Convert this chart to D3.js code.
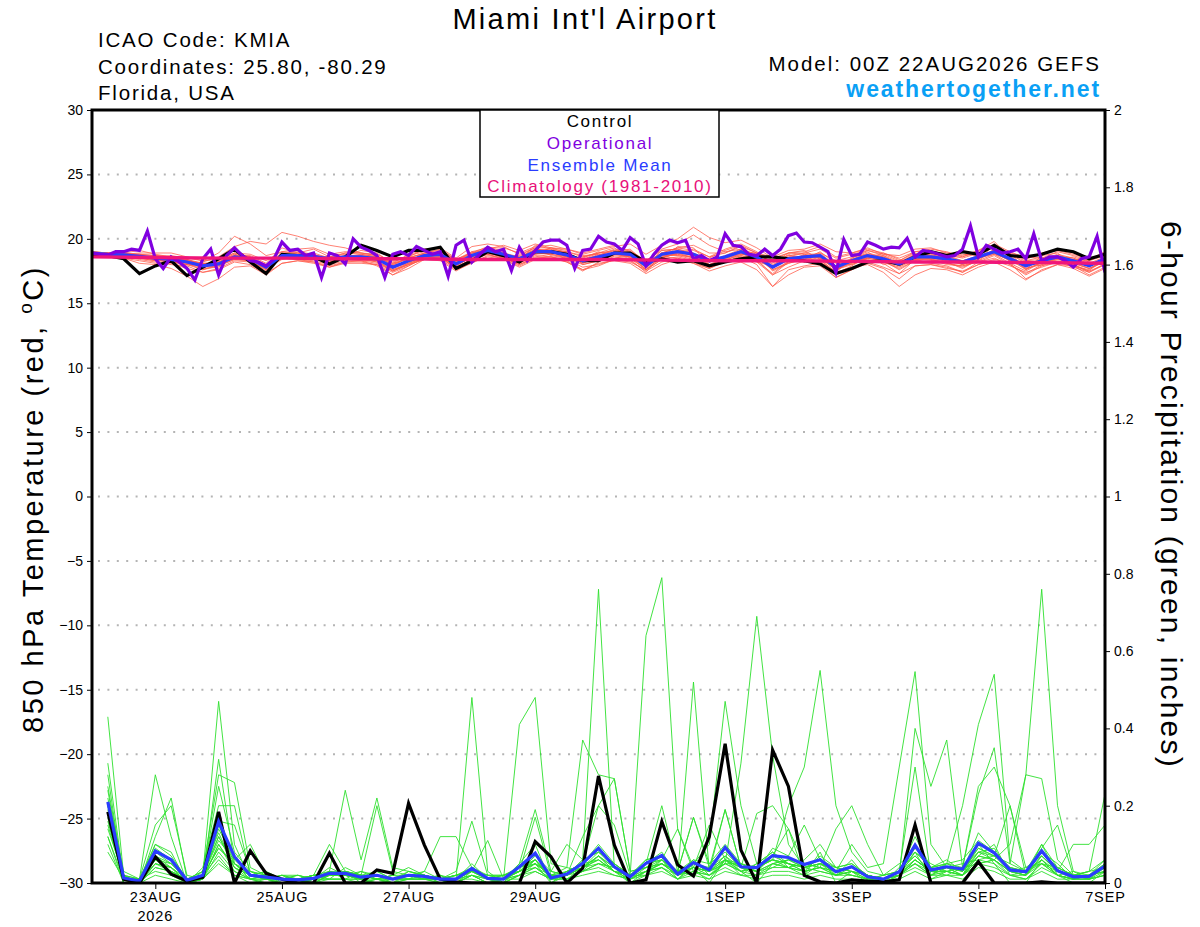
<!DOCTYPE html>
<html>
<head>
<meta charset="utf-8">
<script src="https://cdn.jsdelivr.net/npm/d3@7"></script>
<style>
  body { margin: 0; background: #fff; }
  svg { display: block; font-family: "Liberation Sans", Arial, Helvetica, sans-serif; }
</style>
</head>
<body>
<div id="chart"></div>
<script>
// run 00Z 22AUG2026
const runStart = Date.UTC(2026, 7, 22, 0);
const runHours = 384;

const xTickDays = [[7, 23], [7, 25], [7, 27], [7, 29], [8, 1], [8, 3], [8, 5], [8, 7]];
const xTickLabels = ['23AUG', '25AUG', '27AUG', '29AUG', '1SEP', '3SEP', '5SEP', '7SEP'];
const tempTicks = [-30, -25, -20, -15, -10, -5, 0, 5, 10, 15, 20, 25, 30];
const precipTicks = [0, 0.2, 0.4, 0.6, 0.8, 1, 1.2, 1.4, 1.6, 1.8, 2];

// 850 hPa temperature, 6-hourly from hour 0
const tempControl = [18.8, 18.7,18.45,17.3,17.9, 18.3,17.15,17.8,18.45, 19.2,18.2,17.3,18.8, 18.7,18.6,18.05,18.6,
  19.5,19.1,18.6,19.1, 19.1,19.35,17.7,18.3, 19.0,18.7,18.2,19.0, 19.0,18.8,18.3,18.3, 18.9,18.9,18.2,18.45,
  18.2,18.3,17.9,18.2, 18.45,18.6,18.6,18.45, 18.3,18.05,17.3,17.7, 18.2,18.3,18.05,18.6, 19.0,18.7,19.0,18.8,
  19.5,18.7,18.6,18.8, 19.2,19.0,18.45,18.8];
const tempMean = [18.9, 18.8,18.75,18.65,18.5, 18.4,18.2,17.9,18.05, 18.6,18.45,17.8,18.7, 18.7,18.65,18.45,18.6,
  18.6,18.45,17.8,18.3, 18.7,18.8,18.05,18.7, 19.1,18.8,18.45,19.0, 19.0,18.75,18.3,18.6, 18.9,18.8,17.9,18.8,
  19.0,18.8,18.3,18.6, 19.0,18.6,17.8,18.45, 18.6,18.7,17.8,18.3, 18.7,18.45,18.05,18.6, 18.6,18.45,18.2,18.6,
  19.0,18.45,17.9,18.3, 18.6,18.3,17.9,18.45];
// operational run, 3-hourly from hour 0
const tempOper = [18.9,18.8,18.75,19.0,19.0,19.2,19.1,20.6, 18.45,17.7,18.6,18.2,17.7,16.8,18.45,19.2,
  17.2,18.7,19.3,18.7,18.3,18.2,17.9,18.45, 19.75,19.1,19.2,18.7,18.9,17.0,18.9,18.7,
  18.05,20.0,19.35,19.1,18.7,17.0,18.8,19.0, 18.7,19.4,19.1,18.8,19.0,17.1,19.5,19.9,
  18.2,18.8,19.35,19.0,19.2,17.55,19.35,18.3, 19.1,19.75,19.9,19.9,19.5,17.7,19.1,19.2,
  20.2,19.75,19.6,19.1,20.1,19.6,17.9,18.8, 19.5,19.9,19.7,19.9,18.45,18.7,18.3,18.6,
  20.4,19.5,19.4,18.8,18.7,19.2,18.7,19.2, 20.25,20.45,19.75,19.7,19.35,19.0,17.4,19.95,
  18.7,18.8,19.75,19.5,19.2,19.35,19.3,20.05, 18.6,19.1,19.0,18.8,18.6,18.7,19.2,21.0,
  18.6,19.5,19.2,18.9,19.0,19.2,18.45,20.4, 18.3,18.6,18.6,18.3,17.8,18.45,18.6,20.2, 17.4];
// 1981-2010 climatology, daily at 00Z
const tempClimo = [18.6, 18.55, 18.5, 18.5, 18.45, 18.45, 18.4, 18.4, 18.4, 18.35, 18.3, 18.3, 18.25, 18.2, 18.2, 18.15, 18.1];

const tempMembers = [
  [18.9, 18.9,18.7,18.6,18.6, 18.5,18.4,18.0,18.3, 18.9,18.6,17.6,18.9, 19.0,18.8,18.3,18.5, 18.4,18.2,17.5,18.1, 18.9,19.2,18.4,18.9, 19.4,19.0,18.2,18.8, 19.3,19.1,18.0,18.3, 19.0,19.2,18.1,18.5, 18.9,19.2,18.6,18.9, 19.4,18.9,17.5,18.1, 18.4,19.0,18.1,18.0, 18.5,18.9,18.4,18.2, 18.3,18.8,18.5,18.9, 19.3,18.8,18.1,17.9, 18.4,18.6,18.2,18.0],
  [18.8, 18.7,18.9,18.8,18.4, 18.2,18.0,17.6,17.9, 18.4,18.3,18.0,18.9, 18.5,18.4,18.6,18.9, 18.8,18.6,18.0,18.5, 18.6,18.5,17.8,18.4, 19.0,18.6,18.7,19.3, 18.7,18.5,18.6,18.9, 19.3,18.5,17.6,18.4, 19.4,19.3,18.0,18.2, 18.7,18.3,18.1,18.9, 19.1,18.4,17.4,18.5, 19.0,18.2,17.7,18.3, 18.9,18.1,17.9,18.3, 19.2,18.9,17.6,18.7, 18.9,18.0,17.5,18.7],
  [19.0, 18.9,18.8,18.5,18.3, 18.6,18.3,17.7,17.8, 18.7,18.7,18.1,19.3, 18.9,18.5,18.2,18.4, 18.3,18.3,17.6,18.0, 18.4,18.9,18.2,19.0, 18.8,18.9,18.3,19.5, 19.2,18.3,18.5,19.0, 18.6,18.4,17.4,18.9, 18.7,18.4,18.5,19.1, 19.5,18.2,17.9,18.8, 18.2,18.9,18.3,18.6, 18.8,18.0,18.3,18.9, 18.4,18.2,17.7,18.4, 19.5,18.2,18.3,18.6, 18.2,18.4,18.3,18.9],
  [18.9, 18.6,18.9,19.1,18.8, 18.6,18.1,18.2,18.6, 19.4,19.8,19.6,20.5, 20.2,19.8,19.5,19.3, 18.9,18.7,17.9,18.6, 18.8,18.6,17.7,18.5, 19.2,19.5,19.1,19.6, 19.3,18.9,18.1,18.7, 19.1,19.0,18.3,19.2, 19.6,20.3,19.5,19.0, 19.2,18.4,17.2,18.2, 18.8,18.5,17.6,18.1, 18.5,18.7,18.2,18.8, 18.9,18.6,18.6,19.1, 19.8,18.5,17.7,18.0, 18.5,17.9,17.6,18.3],
  [18.8, 18.8,18.5,18.1,18.0, 17.7,17.1,16.3,16.9, 17.8,17.9,17.2,18.1, 18.3,18.1,17.8,18.2, 18.2,18.0,17.4,17.9, 18.5,18.4,17.6,18.1, 18.7,18.5,18.0,18.5, 18.6,18.4,17.8,18.0, 18.4,18.3,17.5,18.2, 18.5,18.1,17.7,18.2, 18.6,18.0,16.3,17.6, 17.9,18.1,17.0,17.6, 18.1,17.7,16.9,17.9, 18.0,17.8,17.4,18.0, 18.4,18.1,16.9,17.5, 18.0,17.9,17.2,17.8],
  [18.9, 18.8,18.6,18.7,18.6, 18.3,18.4,18.1,18.0, 18.5,18.3,17.7,18.5, 18.8,18.9,18.5,18.7, 19.1,18.9,18.1,18.4, 18.7,19.0,18.3,18.8, 19.3,18.9,18.6,19.1, 19.1,19.0,18.7,18.8, 18.5,18.7,17.8,18.6, 18.8,18.5,17.9,18.3, 18.8,18.8,18.2,18.7, 18.9,19.2,18.5,18.8, 19.1,18.8,18.3,19.0, 19.0,18.9,18.8,18.7, 18.9,18.3,18.0,18.4, 18.8,18.5,18.1,18.6],
  [19.0, 18.9,18.9,18.6,18.4, 18.2,18.0,18.0,18.2, 18.8,18.5,17.9,18.6, 18.4,18.3,18.0,18.3, 18.3,17.9,17.2,17.9, 18.6,18.7,17.9,18.6, 19.0,18.5,18.0,18.6, 18.8,18.5,18.0,18.3, 18.8,18.6,17.9,19.1, 19.2,18.9,18.4,18.5, 19.0,18.5,17.6,18.2, 18.3,18.2,17.5,18.4, 18.9,18.6,17.9,18.5, 18.4,18.0,17.9,18.2, 18.7,18.0,17.3,18.0, 18.3,18.0,17.4,18.1],
  [18.8, 18.9,18.8,18.6,18.7, 18.6,18.4,17.9,18.1, 18.7,18.4,17.5,18.6, 18.6,18.7,18.4,18.6, 18.7,18.5,17.8,18.1, 18.5,18.6,17.9,18.6, 19.1,18.8,18.3,18.9, 18.9,18.9,18.4,18.7, 19.2,19.1,18.3,19.1, 19.2,18.8,18.0,18.4, 19.0,18.9,18.4,18.9, 18.8,18.5,17.9,18.2, 18.5,18.3,18.0,18.5, 18.5,18.7,18.3,18.6, 19.1,18.7,18.3,18.4, 18.7,18.5,18.0,18.5],
  [18.9, 18.8,18.7,18.7,18.5, 18.4,18.3,18.1,18.2, 18.6,18.6,18.0,18.8, 18.8,18.6,18.5,18.9, 18.9,18.8,18.2,18.7, 19.0,19.1,18.4,19.0, 19.3,19.3,18.9,19.4, 19.5,19.2,18.8,19.1, 19.4,19.6,18.8,19.5, 20.0,20.9,20.1,19.7, 19.9,19.3,18.5,18.9, 19.0,19.4,18.6,18.9, 19.2,18.9,18.5,19.0, 19.2,19.0,18.6,19.0, 19.6,19.0,18.5,18.8, 19.1,18.8,18.4,18.9],
  [18.9, 18.7,18.6,18.6,18.4, 18.3,18.0,17.8,17.9, 18.4,18.3,17.6,18.5, 18.6,18.5,18.3,18.4, 18.5,18.2,17.6,18.1, 18.5,18.6,17.8,18.4, 18.8,18.5,18.1,18.7, 18.6,18.3,17.6,18.1, 18.3,18.1,17.3,18.0, 18.4,18.1,17.5,17.9, 18.2,17.6,16.3,17.2, 17.8,17.9,17.0,17.6, 18.2,17.8,17.3,17.9, 18.0,17.7,17.5,18.0, 18.3,17.9,17.4,17.8, 18.2,17.9,17.5,18.0],
  [18.8, 18.6,18.5,18.5,18.3, 18.2,18.1,17.6,18.0, 18.5,18.5,17.9,18.7, 18.9,18.7,18.6,18.8, 18.6,18.6,18.0,18.5, 18.9,18.8,18.0,18.8, 19.0,18.7,18.5,19.2, 19.1,18.8,18.4,18.9, 19.1,18.8,17.9,18.7, 18.7,18.6,18.2,18.5, 18.8,18.7,18.3,18.7, 18.5,18.6,17.7,18.1, 18.6,18.5,18.1,18.8, 18.7,18.5,18.0,18.5, 18.8,18.4,17.8,18.3, 18.6,18.2,17.9,18.4],
  [18.9, 18.8,18.9,18.7,18.5, 18.3,18.2,18.0,18.0, 18.7,18.6,17.8,18.8, 18.6,18.5,18.2,18.5, 18.4,18.3,17.5,18.0, 18.7,18.8,18.1,18.5, 18.9,18.6,18.1,18.9, 18.8,18.6,18.2,18.5, 18.7,18.5,17.7,18.5, 18.9,18.7,18.2,18.6, 19.1,18.7,17.6,18.1, 18.5,18.4,17.3,17.9, 18.6,18.3,17.6,18.3, 18.5,18.3,18.1,18.5, 18.9,18.4,17.6,18.2, 18.4,18.1,17.7,18.3],
  [18.9, 18.7,18.8,18.8,18.7, 18.6,18.3,17.9,18.2, 18.8,18.5,17.8,18.7, 18.5,18.6,18.5,18.4, 18.4,18.4,17.7,18.3, 18.8,19.0,18.1,18.7, 19.2,18.9,18.4,19.0, 19.0,18.6,18.2,18.5, 18.9,18.9,17.9,18.9, 19.0,18.7,18.3,18.7, 19.2,18.8,17.7,18.5, 18.7,18.9,17.9,18.4, 18.8,18.6,18.1,18.7, 18.7,18.6,18.3,18.7, 19.0,18.6,18.0,18.4, 18.7,18.4,17.9,18.5],
  [18.8, 18.8,18.7,18.8,18.7, 18.5,18.3,18.1,18.0, 18.6,18.4,17.9,18.6, 18.7,18.8,18.4,18.5, 18.6,18.3,17.9,18.2, 18.6,18.9,18.0,18.7, 19.1,18.7,18.5,19.0, 18.9,18.8,18.3,18.6, 18.8,18.9,18.1,18.9, 19.1,18.8,18.3,18.6, 19.1,18.5,17.9,18.4, 18.6,18.8,17.8,18.2, 18.7,18.4,17.9,18.5, 18.6,18.4,18.2,18.6, 19.1,18.5,17.9,18.3, 18.6,18.3,17.9,18.4],
  [18.9, 18.9,18.6,18.6,18.6, 18.7,18.5,18.3,18.9, 20.2,19.6,18.7,19.0, 18.9,19.2,18.6,18.6, 18.8,18.6,18.3,18.6, 19.2,19.3,18.5,19.4, 19.6,19.4,18.8,19.3, 19.3,19.2,18.9,19.2, 19.5,19.0,18.2,18.9, 19.3,19.5,18.9,18.9, 19.5,18.9,18.6,19.1, 19.2,19.6,19.0,18.9, 19.3,18.8,18.7,19.2, 19.3,18.9,18.7,19.1, 19.5,18.9,18.6,18.5, 19.0,18.7,18.3,18.7],
  [18.9, 18.7,18.6,18.4,18.2, 18.0,17.9,17.4,17.6, 18.2,18.0,17.3,18.1, 18.3,18.2,17.8,18.1, 18.1,18.0,17.2,17.7, 18.4,18.3,17.5,18.2, 18.6,18.4,17.8,18.4, 18.5,18.2,17.6,17.9, 18.4,18.2,17.6,18.4, 18.6,18.3,17.8,18.2, 18.6,18.2,17.2,17.8, 18.3,18.2,17.4,17.8, 18.0,17.4,16.3,17.2, 17.7,17.6,17.2,17.8, 18.2,17.6,16.8,17.6, 18.0,17.7,17.1,17.7],
  [19.0, 18.9,18.8,18.9,18.9, 18.9,18.6,18.3,18.4, 18.9,18.8,18.3,19.0, 19.2,19.3,18.8,19.0, 18.9,18.7,18.1,18.8, 19.1,18.9,18.2,18.9, 19.2,18.8,18.6,19.2, 19.0,18.7,18.3,18.8, 18.8,18.6,18.0,18.9, 19.3,19.1,18.6,19.2, 19.6,19.0,18.0,18.6, 18.9,18.7,17.9,18.5, 19.1,18.7,18.0,18.6, 18.8,18.5,18.0,18.4, 19.2,18.8,18.4,18.9, 19.2,18.9,18.4,19.0],
  [18.8, 18.6,18.5,18.3,18.1, 18.1,17.7,17.4,17.7, 18.3,18.2,17.7,18.5, 18.4,18.2,17.9,18.2, 18.3,18.1,17.5,18.0, 18.4,18.5,17.7,18.4, 18.8,18.4,17.9,18.5, 18.6,18.2,17.5,18.2, 18.8,18.7,17.6,18.6, 18.5,18.2,17.7,18.3, 18.9,18.3,17.3,18.3, 18.2,18.6,17.6,18.3, 18.4,18.1,17.3,18.4, 18.1,17.9,17.4,18.2, 18.5,18.0,17.2,17.9, 18.2,17.8,17.4,18.0],
  [18.9, 18.8,18.7,18.6,18.6, 18.5,18.2,17.9,18.2, 18.6,18.5,17.7,18.4, 18.6,18.6,18.4,18.7, 18.7,18.6,18.1,18.5, 18.9,19.0,18.4,18.9, 19.1,18.6,18.2,19.1, 19.2,19.0,18.6,18.9, 19.0,18.7,17.9,18.8, 18.9,18.5,17.8,18.4, 18.7,18.5,17.8,18.5, 18.6,18.6,17.6,18.0, 18.5,18.2,17.8,18.4, 18.4,18.1,17.8,18.3, 18.8,18.1,17.5,18.2, 18.5,18.2,17.7,18.2],
  [18.9, 18.7,18.6,18.5,18.4, 18.3,18.1,17.8,18.1, 18.5,18.4,17.8,18.6, 18.7,18.4,18.2,18.5, 18.6,18.4,17.7,18.2, 18.6,18.7,17.9,18.6, 19.0,18.7,18.3,18.8, 18.9,18.6,18.1,18.5, 18.9,18.6,17.8,18.7, 18.8,18.6,18.0,18.5, 18.9,18.4,17.8,18.4, 18.7,18.5,17.6,18.2, 18.7,18.3,17.9,18.4, 18.5,18.3,18.0,18.5, 18.9,18.3,17.7,18.1, 18.5,18.1,17.7,18.3]
];

// 6-hour precipitation (inches), 6-hourly from hour 6
const precipControl = [.184,.01,0,.068, .023,.005,.015,.184, 0,.083,.025,.01, 0,0,.077,0, 0,.034,.025,.206, .098,.01,.003,0,
  0,0,0,.107, .068,0,.038,.277, .098,0,.008,.159, .047,.018,.12,.36, .085,0,.344,.25, .02,.003,0,.008,
  .005,.003,.008,.15, 0,0,0,.055, 0,0,0,.003, 0,0,0,0];
const precipMean = [.21,.013,.005,.083, .06,.007,.02,.159, .068,.02,.015,.01, .008,.012,.025,.025, .015,.02,.01,.02, .017,.01,.01,.038,
  .012,.01,.042,.077, .013,.023,.051,.09, .042,.016,.051,.071, .023,.053,.034,.092, .042,.04,.071,.066, .048,.06,.029,.042,
  .016,.01,.029,.098, .034,.042,.036,.103, .078,.034,.029,.083, .032,.016,.017,.044];

const precipMembers = [
  [.43,.02,0,.1, .08,0,.02,.47, .1,.01,0,0, 0,0,.02,.03, 0,.01,0,0, 0,0,0,.02, 0,0,.05,.1, 0,.02,.06,.76, .04,0,.03,.05, .02,.04,0,.06, .03,0,.05,.04, .02,.08,0,.03, 0,0,.02,.08, .01,.03,.02,.1, .05,0,0,.06, .02,0,0,.03],
  [.31,.01,.01,.28, .12,0,.01,.32, .05,.02,.01,0, 0,.01,.03,.02, .01,0,0,.03, .02,0,.01,.48, .03,0,.04,.05, 0,.03,.05,.1, .05,.02,.64,.79, .14,.03,.01,.06, .02,.05,.08,.05, .03,.04,.02,.06, .01,.02,.03,.1, .04,.05,.03,.07, .06,.02,.01,.05, .04,.02,.01,.02],
  [.28,0,0,.12, .22,.01,.03,.28, .26,.04,.02,.01, .01,.02,.01,.04, .02,.03,.01,.02, .01,.02,0,.03, .02,.01,.41,.48, .05,.04,.03,.07, .03,0,.02,.04, .01,.05,.03,.19, .04,.04,.06,.05, .04,.03,.02,.04, .02,0,.04,.07, .03,.02,.04,.08, .09,.03,.02,.07, .03,.01,.02,.05],
  [.25,.02,0,.05, .04,.01,.02,.25, .08,.03,.01,.02, .01,.01,.03,.01, .03,.02,.01,.01, .01,.01,.02,.04, .01,.02,.03,.06, .02,.04,.37,.28, .27,.03,.04,.05, .03,.06,.05,.08, .04,.03,.07,.14, .02,.05,.04,.03, .02,.01,.03,.3, .02,.04,.05,.06, .07,.05,.03,.08, .05,.01,.02,.03],
  [.24,.01,.01,.09, .06,0,.04,.2, .2,.02,.03,0, .01,.02,.02,.03, .02,.01,.02,.01, .03,.01,.02,.03, .01,.01,.02,.04, .01,.03,.05,.06, .03,.02,.03,.05, .02,.52,.03,.05, .31,.69,.33,.1, .04,.06,.02,.03, .02,.01,.02,.06, .03,.04,.02,.07, .1,.02,.03,.06, .02,.01,.02,.04],
  [.22,.03,.01,.15, .2,.02,.01,.15, .05,.01,.02,.01, .02,.01,.04,.02, .01,.02,0,.02, .02,.01,.03,.16, .02,.02,.03,.05, .02,.01,.04,.05, .04,.02,.02,.06, .03,.05,.1,.47, .2,.05,.08,.04, .06,.1,.04,.05, .02,.01,.03,.12, .04,.06,.03,.13, .08,.04,.03,.1, .04,.02,.02,.06],
  [.21,0,0,.06, .05,.01,.02,.12, .04,.02,.01,.02, 0,.01,.03,.24, .06,.22,.04,.03, .02,.01,.02,.03, .01,0,.02,.05, .03,.02,.04,.06, .03,.01,.04,.07, .02,.06,.02,.05, .03,.04,.06,.2, .3,.55,.2,.08, .03,.02,.05,.08, .05,.03,.04,.09, .07,.03,.04,.05, .03,.02,.01,.04],
  [.2,.02,.01,.07, .04,0,.01,.1, .03,.01,.02,.01, .01,.02,.02,.03, .02,.2,.03,.02, .03,.12,.12,.04, .02,.01,.05,.19, .03,.02,.06,.08, .04,.02,.05,.06, .03,.04,.02,.06, .04,.03,.07,.05, .04,.05,.03,.1, .04,.05,.3,.547, .1,.04,.03,.08, .06,.03,.02,.07, .03,.02,.02,.04],
  [.2,.01,0,.04, .03,.01,.03,.16, .15,.03,.02,.01, .02,.01,.02,.02, .01,.02,.01,.03, .02,0,.01,.03, .01,.02,.04,.06, .01,.03,.05,.2, .27,.03,.04,.06, .01,.04,.03,.07, .04,.02,.05,.06, .05,.06,.03,.04, .02,.01,.02,.4, .25,.37,.04,.05, .06,.03,.02,.1, .02,.03,.01,.05],
  [.19,.01,.01,.1, .07,.01,.01,.14, .06,.1,.02,.01, .01,0,.02,.02, .01,.03,.01,.02, .01,.02,0,.02, 0,.01,.03,.05, .02,.02,.04,.07, .03,.02,.05,.08, .02,.04,.03,.05, .05,.03,.04,.06, .04,.05,.02,.03, .01,.02,.03,.05, .02,.05,.2,.41, .54,.06,.03,.05, .02,.01,.02,.03],
  [.18,.02,0,.08, .05,.01,.02,.11, .06,.02,.03,.01, .01,.02,.1,.03, .02,.01,.01,.02, .01,.01,.02,.03, .01,.02,.03,.04, .02,.01,.03,.05, .04,.01,.03,.05, .03,.02,.04,.07, .03,.05,.06,.04, .05,.04,.03,.02, .01,.01,.02,.06, .03,.04,.02,.05, .06,.1,.28,.76, .2,.03,.02,.05],
  [.18,.01,.01,.05, .03,0,.03,.13, .04,.02,.01,.02, .02,.01,.03,.02, .03,.01,.02,.04, .02,.01,.01,.05, .01,0,.02,.06, .02,.03,.04,.08, .05,.02,.06,.07, .03,.05,.04,.06, .05,.04,.06,.05, .03,.07,.04,.03, .02,.01,.03,.07, .03,.05,.04,.23, .35,.05,.28,.27, .06,.02,.03,.06],
  [.17,0,.01,.06, .04,.01,.02,.09, .05,.02,.01,.02, .01,.02,.02,.03, .02,.01,.02,.02, .02,.01,.02,.03, .11,.01,.03,.07, .03,.1,.06,.08, .05,.02,.06,.07, .03,.17,.05,.1, .05,.03,.09,.07, .15,.06,.04,.05, .02,.01,.03,.09, .04,.05,.06,.11, .08,.04,.03,.09, .15,.02,.03,.23],
  [.16,.01,0,.07, .05,.01,.01,.1, .04,.01,.02,.01, .01,.01,.02,.02, .01,.02,.01,.02, .01,.02,.01,.02, .01,.01,.03,.06, .01,.02,.04,.07, .04,.02,.05,.06, .14,.04,.15,.06, .04,.03,.05,.06, .04,.05,.03,.04, .02,.01,.02,.06, .03,.03,.02,.08, .07,.2,.04,.07, .03,.1,.1,.15],
  [.15,.01,.01,.08, .06,0,.02,.12, .05,.02,.01,.01, 0,.01,.02,.02, .02,.01,.01,.01, .02,.01,.01,.03, .01,.01,.03,.17, .02,.02,.12,.2, .15,.02,.05,.2, .03,.17,.04,.19, .04,.18,.2,.14, .05,.04,.14,.2, .1,.02,.03,.08, .04,.03,.04,.25, .3,.2,.02,.08, .04,.02,.03,.04],
  [.14,.02,.01,.06, .03,.01,.02,.09, .05,.03,.02,.01, .01,.02,.03,.03, .02,.02,.01,.02, .02,.01,.02,.03, .02,.02,.04,.06, .01,.02,.04,.07, .04,.01,.03,.06, .02,.04,.03,.06, .03,.04,.06,.05, .04,.05,.03,.04, .02,.01,.03,.06, .03,.04,.03,.09, .07,.04,.03,.06, .03,.02,.02,.04],
  [.12,0,0,.05, .04,0,.01,.08, .03,.01,.01,0, 0,.01,.01,.01, .01,.01,0,.01, .01,0,.01,.02, 0,.01,.02,.04, .01,.01,.03,.05, .03,.01,.03,.04, .02,.03,.02,.05, .03,.02,.04,.04, .03,.04,.02,.03, .01,0,.02,.05, .02,.03,.02,.06, .05,.02,.02,.05, .02,.01,.01,.03],
  [.12,.01,0,.04, .03,.01,.02,.07, .02,.01,.01,.01, .01,0,.02,.02, .01,.02,.01,.02, .02,.01,.01,.03, .01,.01,.03,.05, .02,.02,.04,.06, .03,.02,.04,.05, .02,.04,.03,.06, .04,.03,.05,.04, .03,.04,.03,.02, .01,.01,.02,.05, .03,.03,.02,.07, .06,.03,.02,.06, .02,.01,.02,.03],
  [.1,0,.01,.03, .02,0,.01,.06, .02,.01,0,.01, 0,.01,.01,.01, .01,0,.01,.01, .01,.01,0,.02, .01,0,.02,.03, .01,.02,.03,.04, .02,.01,.03,.04, .01,.03,.02,.04, .02,.02,.03,.03, .02,.03,.02,.02, .01,.01,.02,.04, .02,.02,.02,.05, .04,.02,.01,.04, .02,.01,.01,.02],
  [.08,.01,0,.02, .01,0,.01,.05, .02,0,.01,0, 0,0,.01,.01, 0,.01,0,.01, .01,0,.01,.01, 0,.01,.01,.03, .01,.01,.02,.03, .02,.01,.02,.03, .01,.02,.01,.03, .02,.01,.02,.02, .01,.02,.01,.01, 0,.01,.01,.03, .01,.02,.01,.04, .03,.01,.01,.03, .01,.01,.01,.02]
];

const W = 1200, H = 927;
const plot = { left: 92, right: 1105, top: 110, bottom: 883 };
const HOUR = 3600e3;

const svg = d3.select('#chart').append('svg')
  .attr('width', W)
  .attr('height', H);

const x = d3.scaleUtc()
  .domain([new Date(runStart), new Date(runStart + runHours * HOUR)])
  .range([plot.left, plot.right]);
const yT = d3.scaleLinear().domain([-30, 30]).range([plot.bottom, plot.top]);
const yP = d3.scaleLinear().domain([0, 2]).range([plot.bottom, plot.top]);

const at = (firstHour, stepHours) => (d, i) => x(new Date(runStart + (firstHour + i * stepHours) * HOUR));

svg.append('defs').append('clipPath').attr('id', 'plot-clip')
  .append('rect')
  .attr('x', plot.left).attr('y', plot.top)
  .attr('width', plot.right - plot.left).attr('height', plot.bottom - plot.top);

// dotted grid at the temperature ticks
svg.append('g')
  .selectAll('line')
  .data(tempTicks.filter(t => t > -30 && t < 30))
  .join('line')
  .attr('x1', plot.left + 6).attr('x2', plot.right)
  .attr('y1', d => yT(d)).attr('y2', d => yT(d))
  .attr('stroke', '#b4b4b4')
  .attr('stroke-width', 2)
  .attr('stroke-dasharray', '2,7.4');

const lines = svg.append('g').attr('clip-path', 'url(#plot-clip)');

function drawSeries(values, xFn, yScale, color, width, opacity) {
  lines.append('path')
    .datum(values)
    .attr('fill', 'none')
    .attr('stroke', color)
    .attr('stroke-width', width)
    .attr('stroke-opacity', opacity)
    .attr('stroke-linejoin', 'miter')
    .attr('d', d3.line().x(xFn).y(d => yScale(d)));
}

precipMembers.forEach(m => drawSeries(m, at(6, 6), yP, '#2ee02e', 0.9, 1));
tempMembers.forEach(m => drawSeries(m, at(0, 6), yT, '#ff5a48', 0.9, 0.85));

drawSeries(precipControl, at(6, 6), yP, '#000', 3.2, 1);
drawSeries(precipMean, at(6, 6), yP, '#2a3cff', 3.2, 1);

drawSeries(tempControl, at(0, 6), yT, '#000', 3.2, 1);
drawSeries(tempMean, at(0, 6), yT, '#2a3cff', 3.2, 1);
drawSeries(tempOper, at(0, 3), yT, '#8000e0', 3.2, 1);
drawSeries(tempClimo, at(0, 24), yT, '#f0157a', 3.4, 1);

// axes
const leftAxis = svg.append('g')
  .attr('transform', `translate(${plot.left},0)`)
  .call(d3.axisLeft(yT).tickValues(tempTicks).tickSize(5).tickPadding(4));
const rightAxis = svg.append('g')
  .attr('transform', `translate(${plot.right},0)`)
  .call(d3.axisRight(yP).tickValues(precipTicks).tickSize(5).tickPadding(4)
    .tickFormat(d => String(+d.toFixed(1))));
const xTickDates = xTickDays.map(([m, d]) => new Date(Date.UTC(2026, m, d)));
const bottomAxis = svg.append('g')
  .attr('transform', `translate(0,${plot.bottom})`)
  .call(d3.axisBottom(x).tickValues(xTickDates).tickSize(6).tickPadding(3)
    .tickFormat((d, i) => xTickLabels[i]));

[leftAxis, rightAxis, bottomAxis].forEach(g => {
  g.select('.domain').remove();
  g.selectAll('text').attr('font-size', 14).attr('fill', '#000')
    .attr('font-family', '"Liberation Sans", Arial, sans-serif');
  g.selectAll('line').attr('stroke', '#000');
});
bottomAxis.selectAll('text').attr('font-size', 14.5).attr('letter-spacing', 0.9);

svg.append('text')
  .attr('x', x(xTickDates[0])).attr('y', 921)
  .attr('text-anchor', 'middle').attr('font-size', 14.5).attr('letter-spacing', 0.9)
  .text('2026');

// frame
svg.append('rect')
  .attr('x', plot.left).attr('y', plot.top)
  .attr('width', plot.right - plot.left).attr('height', plot.bottom - plot.top)
  .attr('fill', 'none').attr('stroke', '#000').attr('stroke-width', 3);

// legend
const legend = svg.append('g');
legend.append('rect')
  .attr('x', 480).attr('y', plot.top)
  .attr('width', 239).attr('height', 87)
  .attr('fill', '#fff').attr('stroke', '#000').attr('stroke-width', 1.5);
const legendItems = [
  ['Control', '#000'],
  ['Operational', '#8000e0'],
  ['Ensemble Mean', '#2a3cff'],
  ['Climatology (1981-2010)', '#e8107a']
];
legend.selectAll('text')
  .data(legendItems)
  .join('text')
  .attr('x', 600)
  .attr('y', (d, i) => 127 + i * 21.8)
  .attr('text-anchor', 'middle')
  .attr('font-size', 17)
  .attr('letter-spacing', 1.7)
  .attr('fill', d => d[1])
  .text(d => d[0]);

// header text
svg.append('text')
  .attr('x', 585).attr('y', 29)
  .attr('text-anchor', 'middle').attr('font-size', 29).attr('letter-spacing', 2.3)
  .text("Miami Int'l Airport");

const infoLines = ['ICAO Code: KMIA', 'Coordinates: 25.80, -80.29', 'Florida, USA'];
svg.append('g').selectAll('text')
  .data(infoLines)
  .join('text')
  .attr('x', 98)
  .attr('y', (d, i) => 47 + i * 26.5)
  .attr('font-size', 20.5)
  .attr('letter-spacing', 1.8)
  .text(d => d);

svg.append('text')
  .attr('x', 1101).attr('y', 71)
  .attr('text-anchor', 'end').attr('font-size', 20.5).attr('letter-spacing', 2)
  .text('Model: 00Z 22AUG2026 GEFS');
svg.append('text')
  .attr('x', 1101).attr('y', 97)
  .attr('text-anchor', 'end').attr('font-size', 23).attr('font-weight', 'bold')
  .attr('letter-spacing', 1.9)
  .attr('fill', '#0aa0f5')
  .text('weathertogether.net');

// axis titles
const leftTitle = svg.append('text')
  .attr('transform', 'translate(43,499) rotate(-90)')
  .attr('text-anchor', 'middle').attr('font-size', 29).attr('letter-spacing', 2.5);
leftTitle.append('tspan').text('850 hPa Temperature (red, ');
leftTitle.append('tspan').attr('font-size', 19).attr('dy', -11).text('o');
leftTitle.append('tspan').attr('dy', 11).text('C)');

svg.append('text')
  .attr('transform', 'translate(1161,495) rotate(90)')
  .attr('text-anchor', 'middle').attr('font-size', 30).attr('letter-spacing', 2.2)
  .text('6-hour Precipitation (green, inches)');
</script>
</body>
</html>
